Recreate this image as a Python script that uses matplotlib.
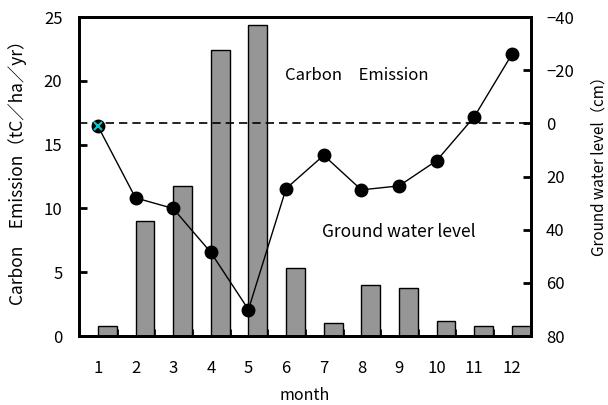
import matplotlib
matplotlib.use('Agg')
import matplotlib.pyplot as plt
import numpy as np

plt.rcParams['font.family'] = ['Noto Sans CJK JP', 'DejaVu Sans']

months = list(range(1, 13))
carbon = [0.8, 9.0, 11.8, 22.4, 24.4, 5.3, 1.0, 4.0, 3.8, 1.2, 0.8, 0.8]
water = [1, 28, 32, 48.5, 70, 24.5, 12, 25, 23.5, 14, -2.5, -26]

fig = plt.figure(figsize=(6.08, 4.05), dpi=100)
ax = fig.add_axes([0.130, 0.170, 0.743, 0.788])
ax2 = ax.twinx()

x = np.array(months)
ax.bar(x, carbon, width=0.5, align='edge', color='#969696',
       edgecolor='black', linewidth=1.0, zorder=2)

ax2.axhline(0, color='black', linestyle=(0, (5, 3)), linewidth=1.2)
ax2.plot(x, water, color='black', linewidth=1.0, marker='o',
         markersize=9, markerfacecolor='black', zorder=3)
ax2.plot(x[0], water[0], marker='x', color='#00d0d0', markersize=6,
         markeredgewidth=1.5, zorder=4)

ax.set_xlim(0.5, 12.5)
ax.set_ylim(0, 25)
ax2.set_ylim(80, -40)

ax.set_xticks(x)
ax.set_xticklabels([str(m) for m in months])
ax.set_xticks(np.arange(1.5, 12.5, 1), minor=True)
ax.tick_params(axis='x', which='major', length=0, pad=17, labelsize=12)
ax.tick_params(axis='x', which='minor', direction='in', length=5, width=2)
ax.set_yticks(np.arange(0, 26, 5))
ax.tick_params(axis='y', direction='in', length=6, width=2, labelsize=12, pad=12)
ax2.set_yticks(np.arange(-40, 81, 20))
ax2.set_yticklabels(['−40', '−20', '0', '20', '40', '60', '80'])
ax2.tick_params(axis='y', direction='in', length=6, width=2, labelsize=12, pad=11)

for a in (ax, ax2):
    for sp in a.spines.values():
        sp.set_linewidth(2)

ax.set_xlabel('month', fontsize=11.5)
ax.xaxis.set_label_coords(0.5, -0.160)
ax.set_ylabel('Carbon\u3000Emission\uff08tC\uff0fha\uff0fyr\uff09', fontsize=12.5)
ax.yaxis.set_label_coords(-0.115, 0.527)
ax2.set_ylabel('Ground water level\uff08cm\uff09', fontsize=11)
ax2.yaxis.set_label_coords(1.133, 0.545)

ax.text(5.97, 20.4, 'Carbon\u3000Emission', fontsize=12, va='center')
ax.text(6.95, 8.15, 'Ground water level', fontsize=12.5, va='center')

fig.savefig('out.png', dpi=100)
